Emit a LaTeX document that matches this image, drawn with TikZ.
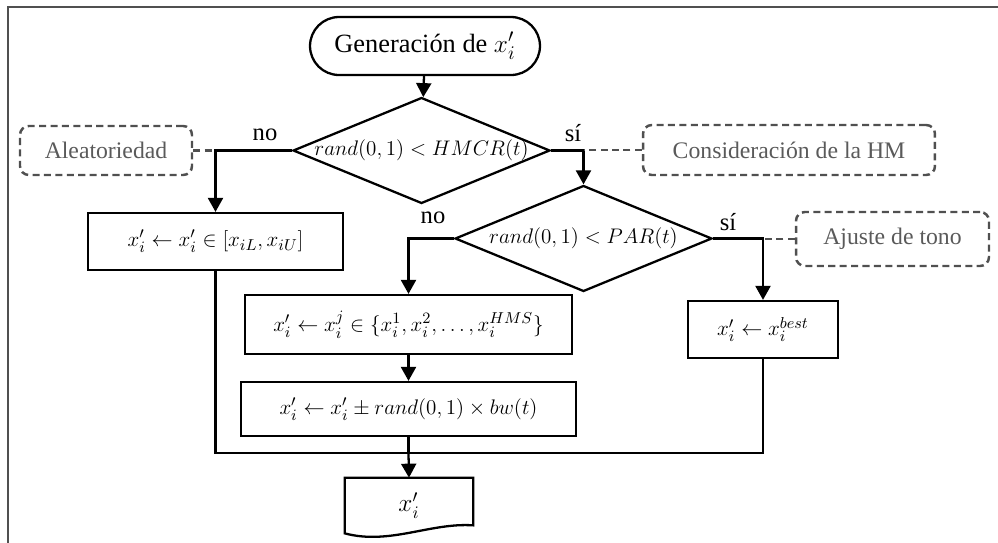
\documentclass[tikz,border=0pt]{standalone}
\usepackage{amsmath}
\usepackage{fontspec}
\setmainfont{Liberation Serif}
\usepackage{tikz}
\usetikzlibrary{shapes.geometric, arrows.meta, positioning, calc}
\definecolor{mydark}{RGB}{0,0,0}
\definecolor{mygray}{RGB}{80,80,80}
\definecolor{mytext}{RGB}{90,90,90}
\tikzset{
  block/.style={rectangle, draw=mydark, fill=white, align=center,
    inner sep=0pt, font=\fontsize{12.5}{15}\selectfont, line width=1.3pt},
  startnode/.style={rectangle, draw=mydark, rounded corners=0.58cm,
    minimum width=4.6cm, minimum height=1.16cm, inner sep=0pt,
    font=\fontsize{15}{17}\selectfont, line width=1.3pt},
  decision/.style={diamond, draw=mydark, inner sep=0pt,
    minimum width=5.14cm, minimum height=2.12cm,
    font=\fontsize{11.5}{14}\selectfont, line width=1.3pt},
  note/.style={rectangle, draw=mygray, dash pattern=on 4pt off 2.5pt,
    rounded corners=5pt, text=mytext, inner sep=0pt, minimum height=1cm,
    font=\fontsize{13.5}{16}\selectfont, line width=1.4pt},
  tag/.style={font=\fontsize{14}{16}\selectfont, inner sep=1pt},
  arrow/.style={-{Triangle[length=0.28cm, width=0.3cm]}, line width=1.3pt, color=mydark},
  line/.style={line width=1.3pt, color=mydark},
  dashline/.style={dash pattern=on 4pt off 2.5pt, line width=1.4pt, color=mygray},
  frame/.style={line width=0.8pt, color=mygray}
}

\begin{document}
\begin{tikzpicture}[x=0.02cm, y=-0.02cm]
  \useasboundingbox (0,0) rectangle (998,542);
  % Outer frame
  \draw[frame] (8,560) -- (8,7) -- (1010,7);

  % Main flow
  \node[startnode] (gen) at (425,46) {Generación de $x_i'$};
  \node[decision] (hmcr) at (421.5,150.5) {\makebox[0pt]{$rand(0,1) < HMCR(t)$}};
  \node[block, minimum width=5.1cm, minimum height=1.14cm] (rnd) at (215.5,241.5)
    {$x_i' \leftarrow x_i' \in [x_{iL}, x_{iU}]$};
  \node[decision] (par) at (583.5,238.5) {\makebox[0pt]{$rand(0,1) < PAR(t)$}};
  \node[block, minimum width=6.54cm, minimum height=1.18cm] (mem) at (408.5,324.5)
    {$x_i' \leftarrow x_i^j \in \{x_i^1, x_i^2, \dots, x_i^{HMS}\}$};
  \node[block, minimum width=6.7cm, minimum height=1.08cm] (adj) at (408.5,409)
    {$x_i' \leftarrow x_i' \pm rand(0,1) \times bw(t)$};
  \node[block, minimum width=3cm, minimum height=1.14cm] (best) at (763,329.5)
    {$x_i' \leftarrow x_i^{best}$};
  \node[rectangle, minimum width=2.56cm, minimum height=1.1cm, inner sep=0pt,
    font=\fontsize{14}{17}\selectfont] (out) at (409,505.5) {$x_i'$};
  \draw[line] (out.north west) -- (out.north east) -- ([yshift=0.16cm]out.south east)
    .. controls +(-43,-3) and +(45,12) .. (out.south west) -- cycle;

  % Notes
  \node[note, minimum width=3.44cm, minimum height=0.98cm] (ale) at (106,150.5) {Aleatoriedad};
  \node[note, minimum width=5.84cm] (cons) at (789,150) {Consideración de la HM};
  \node[note, minimum width=3.86cm, minimum height=1.08cm] (tono) at (892.5,239) {Ajuste de tono};

  % Connectors
  \draw[arrow] (gen) -- (hmcr);
  \draw[arrow] (hmcr.west) -| (rnd.north);
  \draw[arrow] (hmcr.east) -| (par.north);
  \draw[arrow] (par.west) -| (mem.north);
  \draw[arrow] (par.east) -| (best.north);
  \draw[arrow] (mem) -- (adj);
  \coordinate (merge) at ($(adj.south)+(0,16)$);
  \draw[line] (rnd.south) |- (merge) -| (best.south);
  \draw[line] (adj.south) -- (merge);
  \draw[arrow] (merge) -- (out.north);

  % Dashed links to notes
  \draw[dashline] (ale.east) -- (ale.east -| rnd.north);
  \draw[dashline] (cons.west) -- (cons.west -| par.north);
  \draw[dashline] (tono.west) -- (tono.west -| best.north);

  % Branch labels
  \node[tag] (no1) at (265,135) {no};
  \node[tag] (si1) at (573,133) {sí};
  \node[tag] (no2) at (433,218) {no};
  \node[tag] (si2) at (728,222) {sí};
\end{tikzpicture}
\end{document}
